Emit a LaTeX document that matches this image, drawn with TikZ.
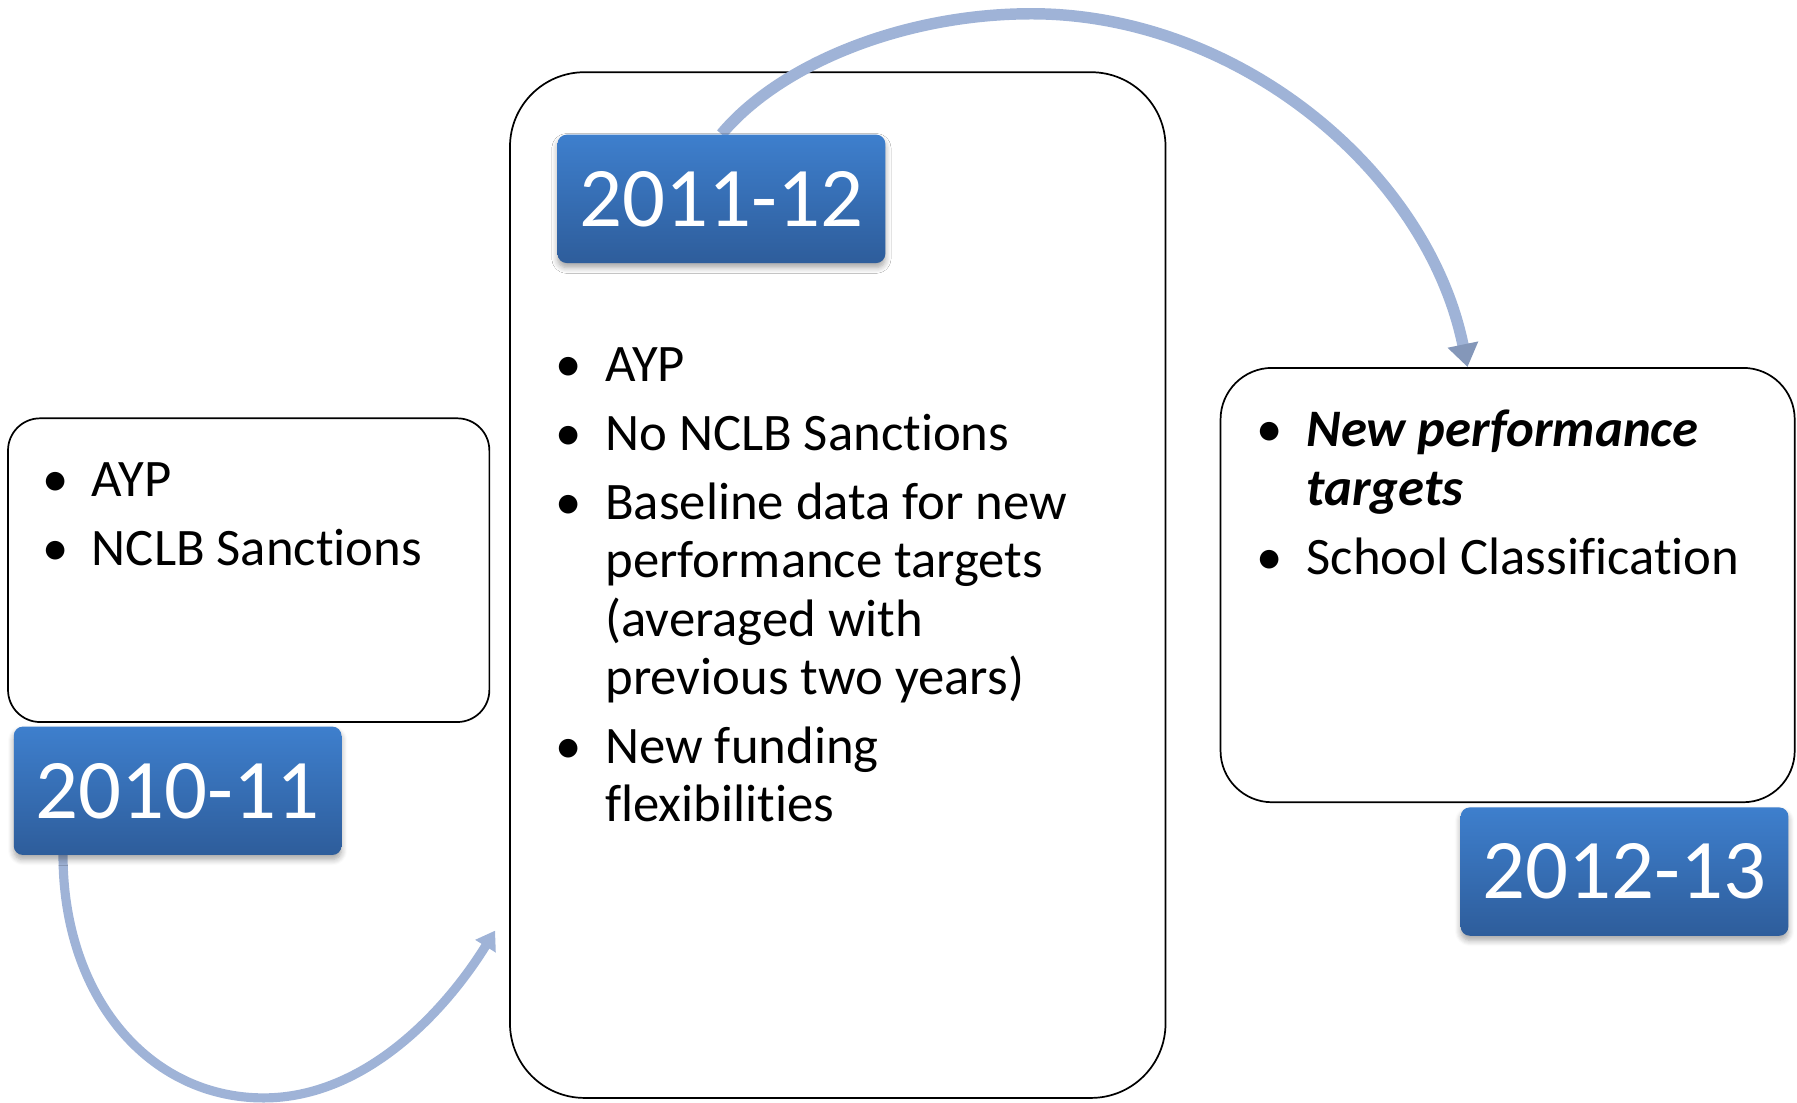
\documentclass[tikz,border=0pt]{standalone}
\usepackage{fontspec}
\setmainfont[Ligatures=NoCommon]{Carlito}
\usetikzlibrary{arrows.meta,shadows.blur}
\definecolor{lblTop}{HTML}{3E7FCD}
\definecolor{lblBot}{HTML}{2E5D9B}
\definecolor{arrC}{HTML}{9FB3D7}
\definecolor{arrH}{HTML}{8497B9}
\newcommand\bitem[1]{\par\noindent\hangindent=43.5pt\hangafter=1\makebox[43.5pt][l]{\textbullet}#1}
\newcommand\bullist[2]{\begin{minipage}[t]{#1}\fontsize{46}{51}\selectfont\setlength{\parskip}{9pt}#2\end{minipage}}
\tikzset{
  frame/.style={draw=black, line width=1.5pt, fill=white, inner sep=0pt},
  lbl/.style={rounded corners=8pt, top color=lblTop, bottom color=lblBot, draw=none,
    minimum width=286pt, minimum height=112pt, inner sep=0pt, text=white,
    font=\fontsize{74}{78}\selectfont,
    blur shadow={shadow xshift=0pt, shadow yshift=-4pt, shadow blur steps=6, shadow blur radius=5pt, shadow opacity=35}},
  txt/.style={inner sep=0pt, anchor=base west},
  conn/.style={draw=arrC, line cap=butt}
}
\begin{document}
\begin{tikzpicture}[x=1pt,y=-1pt]
\useasboundingbox (0,0) rectangle (1568,962);
% boxes
\node[frame, rounded corners=28pt, minimum width=420pt, minimum height=265pt] (b1) at (217,497.5) {};
\node[frame, rounded corners=65pt, minimum width=572pt, minimum height=895pt] (b2) at (731,510.5) {};
\node[frame, rounded corners=45pt, minimum width=501pt, minimum height=379pt] (b3) at (1315.5,510.5) {};
% label positions (nodes drawn later)
\coordinate (l1c) at (155,690);
\coordinate (l2c) at (629.5,173.5);
\coordinate (l3c) at (1417.5,760.5);
% connectors
\coordinate (a1s) at (55,746);
\coordinate (a1m) at (230,958);
\coordinate (a1e) at (432,812);
\coordinate (a2s) at (629.5,117);
\coordinate (a2m) at (900,12);
\coordinate (a2e) at ([xshift=-35pt]b3.north);
\draw[conn, line width=8pt, -{Triangle[length=16pt,width=20pt,color=arrC]}]
  (a1s) .. controls +(0,124) and +(-100,0) .. (a1m)
        .. controls +(90,0) and +(-42,68) .. (a1e);
\draw[conn, line width=10pt, -{Triangle[length=20pt,width=26pt,color=arrH]}]
  (a2s) .. controls +(52,-62) and +(-110,0) .. (a2m)
        .. controls +(180,0) and +(-35,-171) .. (a2e);
% labels
\node[lbl] (l1) at (l1c) {2010-11};
\node[lbl] (l2) at (l2c) {2011-12};
\node[lbl] (l3) at (l3c) {2012-13};
% texts
\node[txt] (t1) at (36.5,433) {\bullist{390pt}{\bitem{AYP}\bitem{NCLB Sanctions}}};
\node[txt] (t2) at (484.5,333) {\bullist{520pt}{\bitem{AYP}\bitem{No NCLB Sanctions}\bitem{Baseline data for new\newline performance targets\newline (averaged with\newline previous two years)}\bitem{New funding\newline flexibilities}}};
\node[txt] (t3) at (1096.5,390) {\bullist{460pt}{\bitem{\textbf{\textit{New performance\newline targets}}}\bitem{School Classification}}};
\end{tikzpicture}
\end{document}
